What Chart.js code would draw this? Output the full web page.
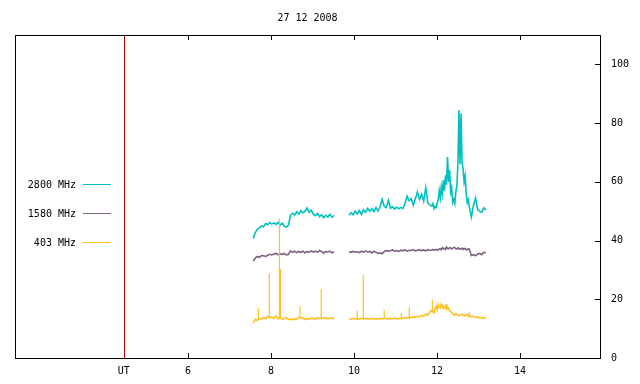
<!DOCTYPE html>
<html>
<head>
<meta charset="utf-8">
<script src="https://cdn.jsdelivr.net/npm/chart.js@4/dist/chart.umd.min.js"></script>
<style>
html,body{margin:0;padding:0;background:#fff;}
canvas{display:block;}
</style>
</head>
<body>
<canvas id="c" width="640" height="384"></canvas>
<script>
// ---- data ----
const title = "27 12 2008";
const seriesNames = ["2800 MHz", "1580 MHz", "403 MHz"];
const seriesColors = ["#00c0c0", "#806080", "#ffc020"];
const utMarker = 4.45;
const xTickValues = [utMarker, 6, 8, 10, 12, 14];
const xTickLabels = ["UT", "6", "8", "10", "12", "14"];
const yTickValues = [0, 20, 40, 60, 80, 100];

// times (UT hours), first segment
const T1 = [7.57,7.62,7.67,7.72,7.77,7.82,7.87,7.92,7.97,8.02,
            8.07,8.12,8.17,8.22,8.27,8.32,8.37,8.42,8.47,8.52,
            8.57,8.62,8.67,8.72,8.77,8.82,8.87,8.92,8.97,9.02,
            9.07,9.12,9.17,9.22,9.27,9.32,9.37,9.42,9.47,9.52];
// times, second segment
const T2 = [9.88,9.93,9.98,10.03,10.08,10.13,10.18,10.23,10.28,10.33,
            10.38,10.43,10.48,10.53,10.58,10.63,10.68,10.73,10.78,10.83,
            10.88,10.93,10.98,11.03,11.08,11.13,11.18,11.23,11.28,11.33,
            11.38,11.43,11.48,11.53,11.58,11.63,11.68,11.73,11.78,11.83,
            11.88,11.905,11.93,11.955,11.98,12.005,12.03,12.055,12.08,12.105,
            12.13,12.155,12.18,12.205,12.23,12.255,12.28,12.305,12.33,12.355,
            12.38,12.405,12.43,12.455,12.48,12.505,12.53,12.555,12.58,12.605,
            12.63,12.655,12.68,12.705,12.73,12.755,12.78,
            12.83,12.88,12.93,12.98,13.03,13.08,13.13,13.18];
const gapTime = 9.7;

const f2800a = [40.7,42.6,43.8,44.3,45.0,44.7,45.8,45.4,46.1,45.6,
                46.0,45.5,46.2,45.3,45.9,44.9,44.6,45.2,48.6,49.3,
                48.7,49.8,49.0,50.2,49.4,50.0,51.1,49.6,50.3,49.0,
                48.5,49.2,48.1,48.8,47.8,48.6,48.0,48.9,47.9,48.6];
const f2800b = [48.6,49.5,48.8,50.0,49.1,50.2,48.9,50.5,49.6,51.0,
                50.0,50.8,49.8,51.2,50.1,51.5,54.0,51.6,51.2,53.7,
                51.0,51.5,50.7,51.4,50.8,51.3,50.9,52.6,55.1,53.5,
                54.3,52.0,54.2,56.5,54.0,55.8,53.4,58.0,52.8,52.0,
                51.8,52.6,50.9,51.6,51.2,52.8,53.9,57.0,54.5,58.3,
                55.8,60.5,57.0,62.2,59.0,68.4,60.0,64.0,56.5,58.0,
                53.0,54.0,52.6,56.5,58.5,66.0,84.4,66.0,83.3,66.5,
                64.5,60.0,62.0,56.0,53.0,54.0,51.5,
                48.0,52.0,54.5,50.5,50.0,49.6,51.2,50.4];

const f1580a = [33.0,34.0,34.6,34.3,34.9,34.8,34.6,35.0,35.3,35.1,
                35.4,35.6,35.2,35.5,35.3,35.6,35.1,35.3,36.5,36.0,
                36.4,35.9,36.3,36.0,36.4,35.8,36.3,36.0,36.5,36.1,
                36.4,36.0,36.6,36.2,35.7,36.3,36.1,36.4,35.8,36.2];
const f1580b = [36.2,36.0,36.3,36.1,36.2,35.9,36.4,36.0,36.5,36.1,
                36.3,35.8,36.4,36.0,35.6,35.8,35.5,36.3,36.6,36.4,
                36.5,36.8,36.4,36.6,36.3,36.7,36.5,36.8,36.4,36.7,
                36.6,36.9,36.5,36.7,36.9,36.6,36.8,36.5,36.9,36.7,
                36.8,37.0,36.7,36.9,37.0,36.7,36.9,37.1,37.2,36.9,
                37.6,37.2,37.3,37.0,37.8,37.3,37.2,37.6,37.5,37.1,
                37.3,37.7,37.6,37.2,37.1,37.5,37.4,37.0,37.2,37.4,
                37.0,37.3,37.2,36.9,36.9,37.2,37.1,
                34.9,35.2,34.8,35.4,35.6,35.2,36.0,35.8];

const f403a = [11.9,13.2,12.8,13.6,13.2,13.8,13.4,14.1,13.7,14.0,
               13.5,14.2,13.3,13.6,13.2,13.4,13.8,13.1,13.3,13.0,
               13.4,13.2,13.9,13.7,13.5,13.1,13.4,13.2,13.7,13.5,
               13.2,13.8,13.4,13.6,13.5,13.7,13.3,13.6,13.5,13.4];
const f403b = [13.4,13.2,13.5,13.3,13.4,13.2,13.6,13.3,13.5,13.4,
               13.2,13.5,13.3,13.4,13.2,13.5,13.3,13.6,13.4,13.3,
               13.5,13.4,13.6,13.3,13.5,13.4,13.7,13.5,13.8,13.6,
               13.8,14.0,13.9,14.2,14.0,14.5,14.2,15.0,14.6,15.8,
               16.2,15.6,15.4,16.8,17.5,16.4,18.2,17.2,17.0,18.3,
               18.0,16.9,17.3,17.8,16.6,17.4,17.0,16.2,15.8,15.5,
               15.2,14.8,14.6,15.1,15.0,14.5,14.3,14.7,14.6,14.9,
               14.8,14.3,14.4,14.8,14.9,14.2,14.6,
               14.0,14.2,13.8,14.0,13.6,13.8,13.5,13.9];
// short single-sample bursts at 403 MHz
const spikeT    = [7.694,7.959,8.204,8.228,8.70,9.21,10.08,10.224,10.73,11.14,11.333,11.89,12.24,12.78];
const spikeLow  = [13.3, 13.6, 13.5, 13.5, 13.6,13.5,13.3, 13.3,  13.4, 13.5, 13.6,  15.8, 16.5, 14.4];
const spikePeak = [17.1, 28.9, 47.5, 30.3, 17.7,23.5,16.0, 28.2,  16.3, 15.3, 17.3,  19.8, 18.4, 15.8];

// ---- build ----
function seg(times, vals){ return times.map((t,i)=>({x:t, y:vals[i]})); }
function joined(a, b){ return [...seg(T1,a), {x:gapTime, y:null}, ...seg(T2,b)]; }
const spikeData = [];
spikeT.forEach((t,i)=>{ spikeData.push({x:t,y:spikeLow[i]},{x:t,y:spikePeak[i]},{x:t+0.001,y:null}); });

const FONT = "DejaVu Sans Mono";

const lineDs = (data, color, label, w) => ({
  label, data, borderColor: color, backgroundColor: color, borderWidth: w,
  pointRadius: 0, tension: 0, spanGaps: false, fill: false
});

const framePlugin = {
  id: 'frame',
  beforeDraw(chart){
    const ctx = chart.ctx;
    ctx.save(); ctx.fillStyle = '#fff'; ctx.fillRect(0,0,chart.width,chart.height); ctx.restore();
  },
  afterDraw(chart){
    const {ctx, chartArea:a, scales} = chart;
    const xs = scales.x, ys = scales.y;
    ctx.save();
    // UT marker
    ctx.strokeStyle = '#b00000'; ctx.lineWidth = 1;
    const ux = Math.round(xs.getPixelForValue(utMarker)) + 0.5;
    ctx.beginPath(); ctx.moveTo(ux, a.top); ctx.lineTo(ux, a.bottom); ctx.stroke();
    // border
    ctx.strokeStyle = '#000'; ctx.lineWidth = 1;
    ctx.strokeRect(Math.round(a.left)+0.5, Math.round(a.top)+0.5, Math.round(a.right-a.left), Math.round(a.bottom-a.top));
    // inward ticks
    const tl = 5;
    ctx.beginPath();
    xTickValues.forEach(v => {
      if (v === utMarker) return;
      const px = Math.round(xs.getPixelForValue(v)) + 0.5;
      ctx.moveTo(px, a.bottom); ctx.lineTo(px, a.bottom - tl);
      ctx.moveTo(px, a.top); ctx.lineTo(px, a.top + tl);
    });
    yTickValues.forEach(v => {
      const py = Math.round(ys.getPixelForValue(v)) + 0.5;
      ctx.moveTo(a.right, py); ctx.lineTo(a.right - tl, py);
    });
    ctx.stroke();
    // title
    ctx.fillStyle = '#000';
    ctx.font = '10px "' + FONT + '"';
    ctx.textAlign = 'center'; ctx.textBaseline = 'middle';
    ctx.fillText(title, (a.left + a.right)/2, 18);
    // legend
    ctx.textAlign = 'right';
    seriesNames.forEach((n, i) => {
      const y = 184 + i*29;
      ctx.fillStyle = '#000';
      ctx.fillText(n, 76, y + 1);
      ctx.strokeStyle = seriesColors[i];
      ctx.beginPath(); ctx.moveTo(83, y + 0.5); ctx.lineTo(111, y + 0.5); ctx.stroke();
    });
    ctx.restore();
  }
};

new Chart(document.getElementById('c'), {
  type: 'line',
  data: {
    datasets: [
      lineDs(spikeData, seriesColors[2], 'spikes', 1.2),
      lineDs(joined(f403a, f403b), seriesColors[2], seriesNames[2], 1.6),
      lineDs(joined(f1580a, f1580b), seriesColors[1], seriesNames[1], 1.6),
      lineDs(joined(f2800a, f2800b), seriesColors[0], seriesNames[0], 1.6)
    ]
  },
  options: {
    responsive: false,
    animation: false,
    devicePixelRatio: 1,
    layout: { padding: { top: 35, left: 15, right: 0, bottom: 0 } },
    plugins: { legend: { display: false }, title: { display: false }, tooltip: { enabled: false } },
    scales: {
      x: {
        type: 'linear', position: 'bottom', min: 1.83, max: 15.93,
        grid: { display: false, drawTicks: false }, border: { display: false },
        afterBuildTicks: s => { s.ticks = xTickValues.map(v => ({ value: v })); },
        afterFit: s => { s.height = 26; },
        ticks: {
          autoSkip: false, maxRotation: 0, padding: 7, color: '#000',
          font: { family: FONT, size: 10 },
          callback: v => xTickLabels[xTickValues.indexOf(v)]
        }
      },
      y: {
        position: 'right', min: 0, max: 110,
        grid: { display: false, drawTicks: false }, border: { display: false },
        afterBuildTicks: s => { s.ticks = yTickValues.map(v => ({ value: v })); },
        afterFit: s => { s.width = 40; },
        ticks: { padding: 11, color: '#000', font: { family: FONT, size: 10 } }
      }
    }
  },
  plugins: [framePlugin]
});
</script>
</body>
</html>
